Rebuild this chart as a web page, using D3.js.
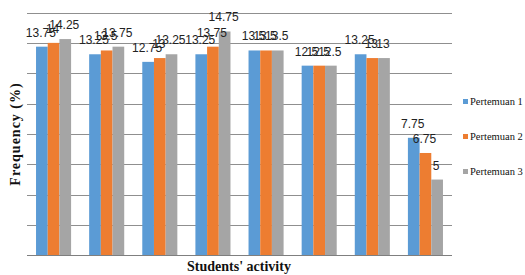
<!DOCTYPE html>
<html><head><meta charset="utf-8">
<script src="https://cdn.jsdelivr.net/npm/d3@7"></script>
<style>body{margin:0;background:#fff}svg{display:block}</style>
</head><body>
<svg id="c" width="525" height="275"></svg>
<script>
const categories = ["1","2","3","4","5","6","7","8"];
const seriesNames = ["Pertemuan 1","Pertemuan 2","Pertemuan 3"];
const pertemuan1 = [13.75,13.25,12.75,13.25,13.5,12.5,13.25,7.75];
const pertemuan2 = [14,13.5,13,13.75,13.5,12.5,13,6.75];
const pertemuan3 = [14.25,13.75,13.25,14.75,13.5,12.5,13,5];
const yTicks = [0,2,4,6,8,10,12,14,16];
const colors = ["#5B9BD5","#ED7D31","#A5A5A5"];
const series = [pertemuan1,pertemuan2,pertemuan3];

const svg = d3.select("#c");
const x0 = d3.scaleBand().domain(categories).range([27,452]).paddingInner(0.34).paddingOuter(0.17);
const x1 = d3.scaleBand().domain(seriesNames).range([0,x0.bandwidth()]);
const y = d3.scaleLinear().domain([0,16]).range([255.5,12.5]);

// gridlines
svg.append("g").selectAll("line").data(yTicks.filter(t=>t>0)).join("line")
  .attr("x1",27).attr("x2",452).attr("y1",d=>Math.round(y(d))+0.5).attr("y2",d=>Math.round(y(d))+0.5)
  .attr("stroke","#8f8f8f").attr("stroke-width",1);

// bars
const g = svg.append("g").selectAll("g").data(categories).join("g")
  .attr("transform",d=>`translate(${x0(d)},0)`);
g.selectAll("rect").data((d,i)=>series.map((s,k)=>({k,v:s[i]}))).join("rect")
  .attr("x",d=>x1(seriesNames[d.k])).attr("width",x1.bandwidth())
  .attr("y",d=>y(d.v)).attr("height",d=>y(0)-y(d.v)).attr("fill",d=>colors[d.k]);

// axis line
svg.append("line").attr("x1",27).attr("x2",452).attr("y1",255.5).attr("y2",255.5)
  .attr("stroke","#7f7f7f").attr("stroke-width",1.2);

// labels
g.selectAll("text").data((d,i)=>series.map((s,k)=>({k,v:s[i]}))).join("text")
  .attr("x",d=>x1(seriesNames[d.k])+x1.bandwidth()/2-1).attr("y",d=>y(d.v)-10)
  .attr("text-anchor","middle").attr("font-family","Liberation Sans, Arial, sans-serif")
  .attr("font-size",12).attr("fill","#222").text(d=>d.v);

// axis titles
svg.append("text").attr("x",239).attr("y",271).attr("text-anchor","middle")
  .attr("font-family","Liberation Serif, Times New Roman, serif").attr("font-weight","bold")
  .attr("font-size",14).attr("fill","#111").text("Students' activity");
svg.append("text").attr("transform","translate(20,134) rotate(-90)").attr("text-anchor","middle")
  .attr("font-family","Liberation Serif, Times New Roman, serif").attr("font-weight","bold")
  .attr("font-size",14).attr("letter-spacing",1).attr("fill","#111").text("Frequency (%)");

// legend
const lg = svg.append("g").selectAll("g").data(seriesNames).join("g")
  .attr("transform",(d,i)=>`translate(463,${102+i*35})`);
lg.append("rect").attr("x",0).attr("y",-3).attr("width",5).attr("height",5).attr("fill",(d,i)=>colors[i]);
lg.append("text").attr("x",7).attr("y",3).attr("font-family","Liberation Serif, Times New Roman, serif")
  .attr("font-size",10.5).attr("fill","#111").text(d=>d);
</script>
</body></html>
